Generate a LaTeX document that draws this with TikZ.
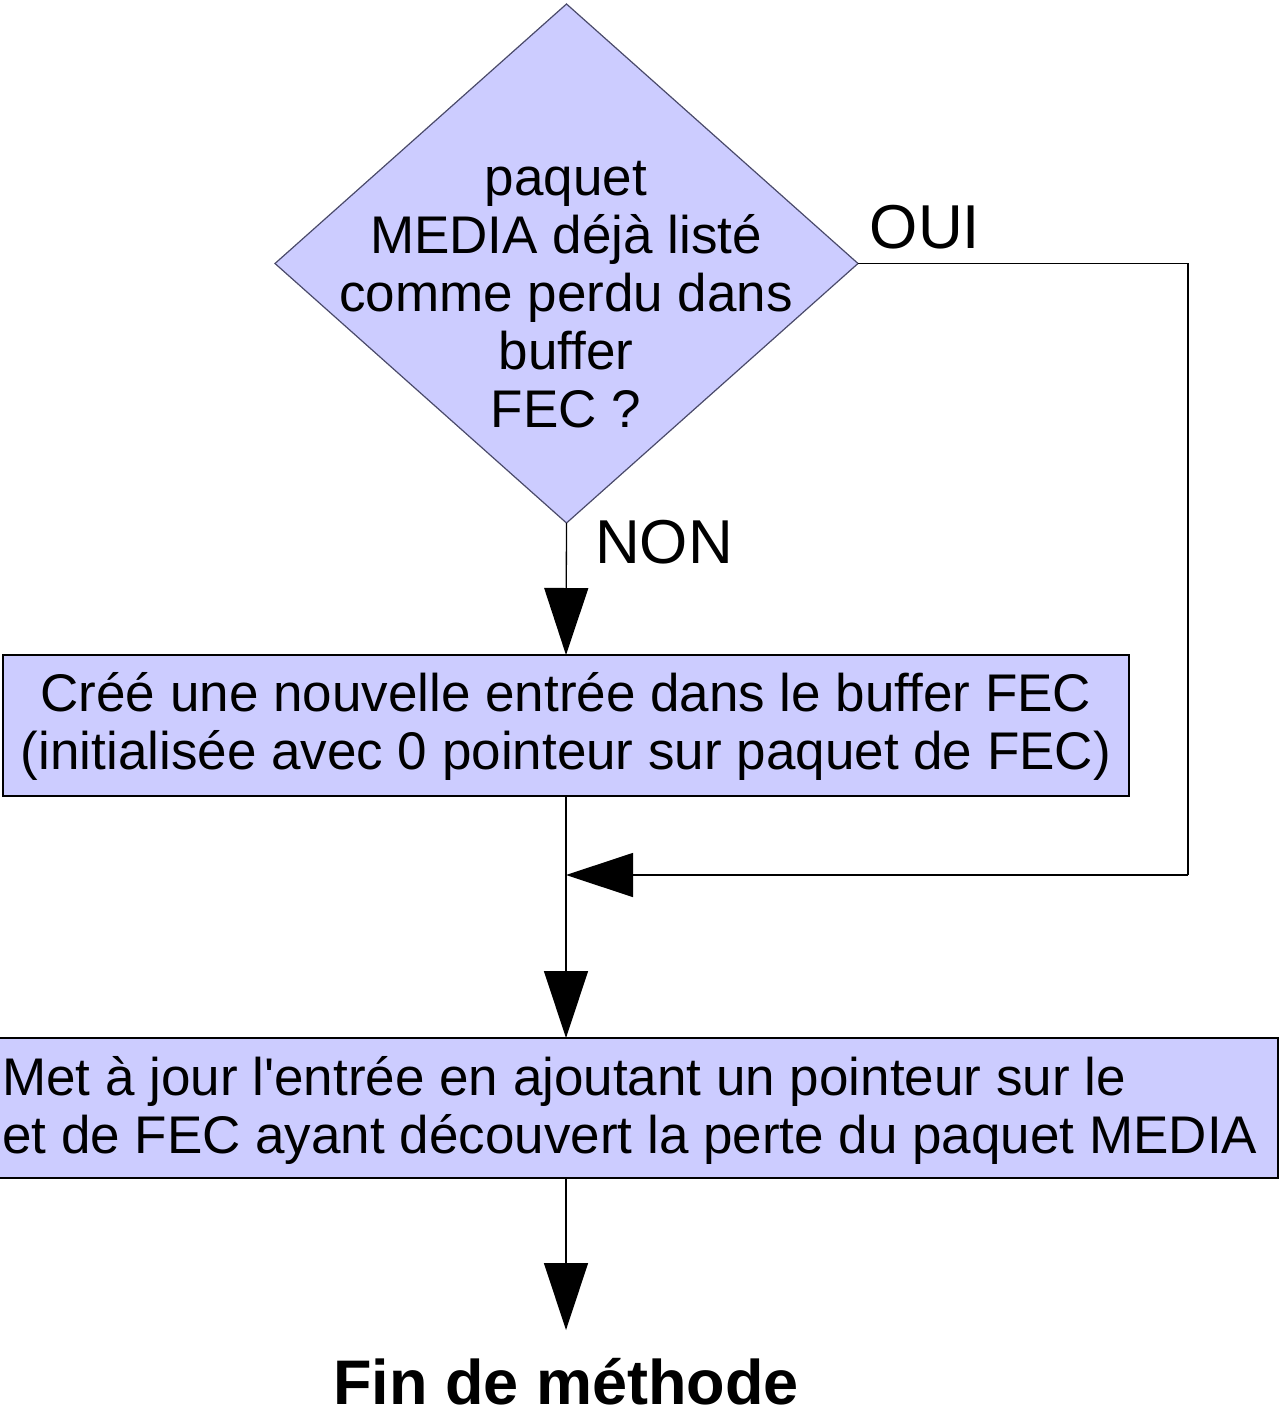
\documentclass[tikz,border=0pt]{standalone}
\usepackage{fontspec}
\setmainfont{Liberation Sans}[Ligatures=TeXOff]
\usetikzlibrary{arrows.meta,shapes.geometric}
\definecolor{fillc}{HTML}{CCCCFF}
\definecolor{diaedge}{HTML}{4A4A6A}
\begin{document}
\begin{tikzpicture}[x=1pt,y=-1pt,
  line/.style={line width=1.3pt, draw=black},
  tip/.style={-{Triangle[length=67pt,width=44pt]}},
  box/.style={draw=black, fill=fillc, line width=1.3pt, inner sep=0pt, outer sep=0pt, rectangle},
  txt/.style={font=\fontsize{53}{58}\selectfont, align=center, inner sep=0pt},
  big/.style={font=\fontsize{62}{70}\selectfont, inner sep=0pt},
]
\useasboundingbox (0,0) rectangle (1281,1412);
% decision
\node[diamond, draw=diaedge, fill=fillc, line width=1.2pt, minimum width=583pt, minimum height=519pt, inner sep=0pt, outer sep=0pt] (dia) at (566.5,263.5) {};
\node[txt] (diat) at (566,295) {paquet\\MEDIA déjà listé\\comme perdu dans\\buffer\\FEC ?};
% boxes
\node[box, minimum width=1126pt, minimum height=141pt] (b1) at (566,725.5) {};
\node[txt] (b1t) at (566,726) {Créé une nouvelle entrée dans le buffer FEC\\(initialisée avec 0 pointeur sur paquet de FEC)};
\node[box, minimum width=1338pt, minimum height=140pt] (b2) at (609,1108) {};
\node[txt, align=left, anchor=west] (b2t) at (2,1110) {Met à jour l'entrée en ajoutant un pointeur sur le\\et de FEC ayant découvert la perte du paquet MEDIA};
% labels
\node[big] (oui) at (925,227) {OUI};
\node[big] (non) at (664,542) {NON};
\node[big, font=\fontsize{63}{70}\selectfont\bfseries] (fin) at (566,1382) {Fin de méthode};
% connectors
\coordinate (corner) at (1188,875);
\coordinate (merge) at (566,875);
\coordinate (endc) at (566,1330);
\draw[line,tip] (dia.south) -- (b1.north);
\draw[line] (dia.east) -| (corner);
\draw[line,tip] (corner) -- (merge);
\draw[line,tip] (b1.south) -- (b1.south |- b2.north);
\draw[line,tip] (b2.south -| endc) -- (endc);
\end{tikzpicture}
\end{document}
